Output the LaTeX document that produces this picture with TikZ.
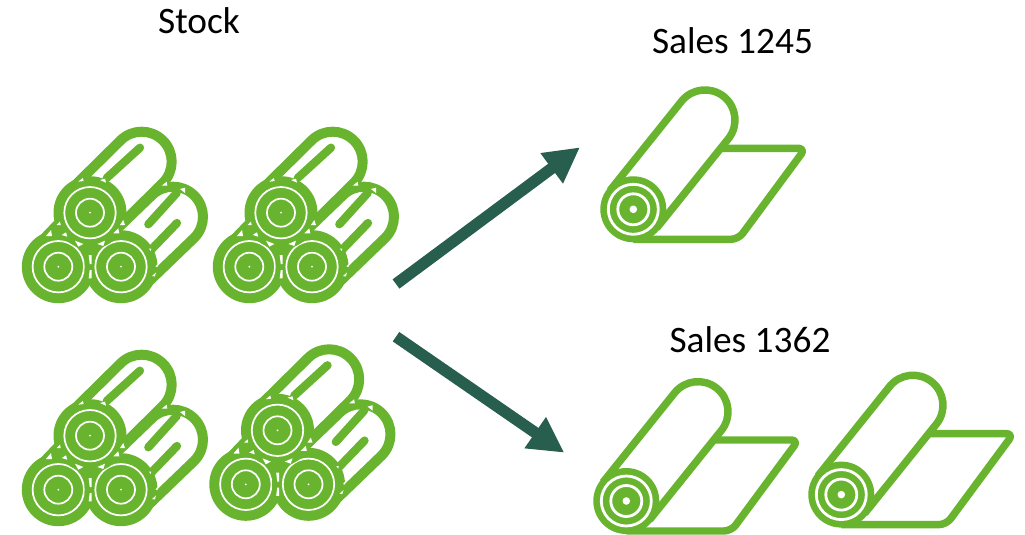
\documentclass[tikz,border=0pt]{standalone}
\usepackage{fontspec}
\setmainfont{Carlito}
\usetikzlibrary{arrows.meta}
\definecolor{leaf}{HTML}{68B42E}
\definecolor{pine}{HTML}{285E4E}
\tikzset{
 lab/.style={font=\fontsize{28pt}{30pt}\selectfont,inner sep=0pt,text=black},
 wall/.style={draw=leaf,line width=7.5pt,line join=round},
 grain/.style={draw=leaf,line width=6.2pt,line cap=round},
 rollline/.style={draw=leaf,line width=5.6pt,line join=round,fill=white},
 flow/.style={draw=pine,line width=8.6pt,-{Triangle[length=26.5pt,width=26.5pt]}},
 logdisc/.pic={
  \fill[leaf] (0,0) circle[radius=36.5];
  \draw[white,line width=1.3pt] (0,0) circle[radius=25.7];
  \draw[white,line width=1.3pt] (0,0) circle[radius=14];
  \fill[white] (0,0) circle[radius=1];
 },
 logs/.pic={
  \draw[wall,fill=white] (142.2,287.9) -- (194.2,237.9) arc[start angle=45,end angle=-135,radius=30] -- (99.8,245.5);
  \draw[grain] (148.3,224.3) -- (176.7,193);
  \draw[grain] (150,251) -- (177,223);
  \draw[wall] (37,246) -- (60,222);
  \draw[wall,fill=white] (111.2,233.9) -- (162.9,182.9) arc[start angle=45,end angle=-135,radius=30] -- (68.8,191.5);
  \draw[grain] (106.7,178) -- (140,147.7);
  \pic at (58.3,266.7) {logdisc};
  \pic at (121,266.7) {logdisc};
  \pic at (90,212.7) {logdisc};
  \fill[white] (78.3,181.7) -- (82.7,178) -- (83.7,181) -- cycle;
  \fill[white] (100,180) -- (105,178.7) -- (106,182.7) -- cycle;
  \fill[white] (56.7,225) -- (60,221.7) -- (60.7,225) -- cycle;
  \fill[white] (120,225) -- (123.3,220) -- (125,225) -- cycle;
  \fill[white] (75,240.7) -- (83.3,244) -- (78.3,246.7) -- cycle;
  \fill[white] (97.3,244) -- (105,240.7) -- (103.3,246) -- cycle;
  \fill[white] (88.7,255) -- (91.7,255) -- (91.7,264) -- (89.7,264) -- cycle;
  \fill[white] (89.7,270) -- (91.7,270) -- (91.7,278.3) -- (88.7,278.3) -- cycle;
  \fill[white] (46,236) -- (51,230) -- (52,236) -- cycle;
  \fill[white] (61.7,235) -- (66,232.3) -- (67.3,236.7) -- cycle;
  \fill[white] (113.3,233.3) -- (118.3,228.3) -- (119.3,233.3) -- cycle;
  \fill[white] (148.8,248.5) -- (151.2,248.5) -- (150.8,251) -- cycle;
  \fill[white] (155.5,266.5) -- (157.5,264) -- (157.5,267) -- cycle;
  \fill[white] (152,276) -- (156,272.5) -- (154.8,276.5) -- cycle;
  \fill[white] (161.7,185.7) -- (166.7,181.7) -- (167.3,185.7) -- cycle;
  \fill[white] (180,189) -- (185,187.7) -- (185,193) -- cycle;
 },
 roll/.pic={
  \draw[rollline,rounded corners=5.5pt] (633.3,239.3) -- (738.3,239.3) -- (805.5,148.3) -- (710,148.3);
  \draw[rollline] (656.7,228) -- (728.4,138.7) arc[start angle=38.7,end angle=-141.3,radius=30] -- (609.9,190.6);
  \fill[leaf] (633.3,209.3) circle[radius=33];
  \draw[white,line width=2.1pt] (633.3,209.3) circle[radius=25];
  \draw[white,line width=2.1pt] (633.3,209.3) circle[radius=15.5];
  \fill[white] (633.3,209.3) circle[radius=3.8];
 }
}
\begin{document}
\begin{tikzpicture}[x=0.75pt,y=-0.75pt]
\useasboundingbox (0,0) rectangle (1025,535);
\node[lab] (stock) at (199,21) {Stock};
\node[lab] (s1) at (732.5,41) {Sales 1245};
\node[lab] (s2) at (750,340) {Sales 1362};
\pic {logs};
\pic at (191,0) {logs};
\pic at (0,223) {logs};
\pic at (187.5,217.6) {logs};
\pic {roll};
\pic at (-7,291.7) {roll};
\pic at (208,285.3) {roll};
\coordinate (hubA) at (396,284);
\coordinate (tipA) at (580,147.3);
\coordinate (hubB) at (396,336.7);
\coordinate (tipB) at (564.3,452.7);
\draw[flow] (hubA) -- (tipA);
\draw[flow] (hubB) -- (tipB);
\end{tikzpicture}
\end{document}
